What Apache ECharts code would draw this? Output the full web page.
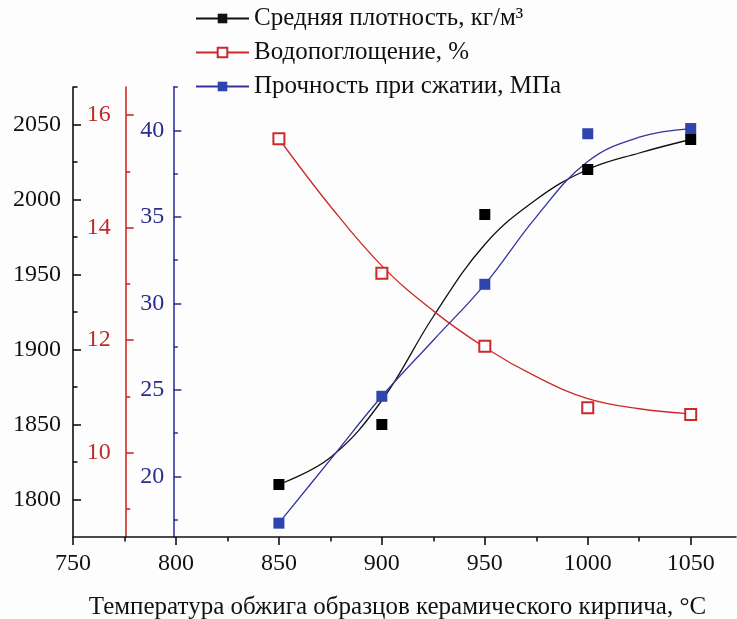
<!DOCTYPE html>
<html>
<head>
<meta charset="utf-8">
<script src="https://cdn.jsdelivr.net/npm/echarts@6/dist/echarts.min.js"></script>
<style>
html,body{margin:0;padding:0;background:#fdfdfd;}
#chart{width:737px;height:619px;}
</style>
</head>
<body>
<div id="chart"></div>
<script>
// ---- data ----
const temps = [850, 900, 950, 1000, 1050];
const density = [1810, 1850, 1990, 2020, 2040];
const water = [15.58, 13.19, 11.89, 10.80, 10.68];
const strength = [17.3, 24.63, 31.1, 39.8, 40.1];

// fitted curves
const curveT = [850, 875, 900, 925, 950, 975, 1000, 1025, 1050];
const densityCurve = [1810, 1828, 1866, 1922, 1970, 2000, 2020, 2031, 2040];
const waterCurve = [15.58, 14.38, 13.32, 12.52, 11.87, 11.35, 10.96, 10.78, 10.69];
const strengthCurve = [17.3, 20.97, 24.63, 27.87, 31.1, 35.0, 38.2, 39.6, 40.1];

// tick labels
const xTicks = [750, 800, 850, 900, 950, 1000, 1050];
const xMinor = [775, 825, 875, 925, 975, 1025];
const densityTicks = [1800, 1850, 1900, 1950, 2000, 2050];
const densityMinor = [1825, 1875, 1925, 1975, 2025, 2075];
const waterTicks = [10, 12, 14, 16];
const waterMinor = [9, 11, 13, 15];
const strengthTicks = [20, 25, 30, 35, 40];
const strengthMinor = [17.5, 22.5, 27.5, 32.5, 37.5, 42.5];

const names = ['Средняя плотность, кг/м³', 'Водопоглощение, %', 'Прочность при сжатии, МПа'];

const FONT = "'Liberation Serif', 'Times New Roman', serif";
const BLACK = '#111111';
const RED = '#cc2a2a';
const RED_TXT = '#c02a2a';
const BLUE = '#34349e';
const BLUE_TXT = '#2c2c8a';
const BLUE_MK = '#2f44ad';

function zip(xs, ys) { return xs.map((x, i) => [x, ys[i]]); }
const plain = v => String(v);

function yMain(color, txtColor, min, max, offset, ticks, margin) {
  return {
    type: 'value', position: 'left', offset: offset, min: min, max: max,
    axisLine: { show: true, onZero: false, lineStyle: { color: color, width: 1.6 } },
    axisTick: { show: true, inside: true, length: 8, customValues: ticks, lineStyle: { color: color, width: 1.6 } },
    axisLabel: { show: true, customValues: ticks, margin: margin, color: txtColor, fontFamily: FONT, fontSize: 24, formatter: plain },
    splitLine: { show: false }
  };
}
function yMinor(color, min, max, offset, ticks) {
  return {
    type: 'value', position: 'left', offset: offset, min: min, max: max,
    axisLine: { show: false },
    axisTick: { show: true, inside: true, length: 4.5, customValues: ticks, lineStyle: { color: color, width: 1.6 } },
    axisLabel: { show: false },
    splitLine: { show: false }
  };
}

const option = {
  backgroundColor: '#fdfdfd',
  animation: false,
  grid: { left: 73, right: 1, top: 87, bottom: 82, containLabel: false, outerBoundsMode: 'none' },
  legend: {
    orient: 'vertical', left: 195, top: 6, padding: 0,
    itemWidth: 53, itemHeight: 12, itemGap: 9,
    data: names,
    textStyle: { fontFamily: FONT, fontSize: 25, color: '#111', lineHeight: 25 }
  },
  xAxis: [
    {
      type: 'value', min: 750, max: 1072,
      name: 'Температура обжига образцов керамического кирпича, °C',
      nameLocation: 'middle', nameGap: 58,
      nameTextStyle: { fontFamily: FONT, fontSize: 25, color: '#111', padding: [0, 14, 0, 0] },
      axisLine: { show: true, onZero: false, lineStyle: { color: BLACK, width: 1.6 } },
      axisTick: { show: true, inside: false, length: 8, customValues: xTicks, lineStyle: { color: BLACK, width: 1.6 } },
      axisLabel: { show: true, customValues: xTicks, margin: 14.5, color: '#111', fontFamily: FONT, fontSize: 24, formatter: plain },
      splitLine: { show: false }
    },
    {
      type: 'value', min: 750, max: 1072, position: 'bottom',
      axisLine: { show: false },
      axisTick: { show: true, inside: false, length: 4.5, customValues: xMinor, lineStyle: { color: BLACK, width: 1.6 } },
      axisLabel: { show: false },
      splitLine: { show: false }
    }
  ],
  yAxis: [
    yMain(BLACK, '#111', 1775, 2075, 0, densityTicks, 12),
    yMain(RED, RED_TXT, 8.5, 16.5, -52.7, waterTicks, 15),
    yMain(BLUE, BLUE_TXT, 16.5, 42.5, -100.3, strengthTicks, 9),
    yMinor(BLACK, 1775, 2075, 0, densityMinor),
    yMinor(RED, 8.5, 16.5, -52.7, waterMinor),
    yMinor(BLUE, 16.5, 42.5, -100.3, strengthMinor)
  ],
  series: [
    {
      name: names[0], type: 'line', yAxisIndex: 0, data: zip(curveT, densityCurve),
      smooth: 0.4, showSymbol: false, symbol: 'rect', symbolSize: 11,
      lineStyle: { color: BLACK, width: 1.3 }, itemStyle: { color: BLACK }, z: 2
    },
    {
      name: names[1], type: 'line', yAxisIndex: 1, data: zip(curveT, waterCurve),
      smooth: 0.4, showSymbol: false, symbol: 'emptyRect', symbolSize: 11,
      lineStyle: { color: RED, width: 1.3 }, itemStyle: { color: RED }, z: 2
    },
    {
      name: names[2], type: 'line', yAxisIndex: 2, data: zip(curveT, strengthCurve),
      smooth: 0.4, showSymbol: false, symbol: 'rect', symbolSize: 11,
      lineStyle: { color: BLUE, width: 1.3 }, itemStyle: { color: BLUE_MK }, z: 2
    },
    {
      name: 'pts0', type: 'scatter', yAxisIndex: 0, data: zip(temps, density),
      symbol: 'rect', symbolSize: 11, itemStyle: { color: '#000', opacity: 1 }, z: 5
    },
    {
      name: 'pts1', type: 'scatter', yAxisIndex: 1, data: zip(temps, water),
      symbol: 'emptyRect', symbolSize: 11, itemStyle: { color: RED, borderWidth: 1.3, opacity: 1 }, z: 5
    },
    {
      name: 'pts2', type: 'scatter', yAxisIndex: 2, data: zip(temps, strength),
      symbol: 'rect', symbolSize: 11, itemStyle: { color: BLUE_MK, opacity: 1 }, z: 5
    }
  ]
};

const chart = echarts.init(document.getElementById('chart'), null, { renderer: 'canvas' });
chart.setOption(option);
</script>
</body>
</html>
